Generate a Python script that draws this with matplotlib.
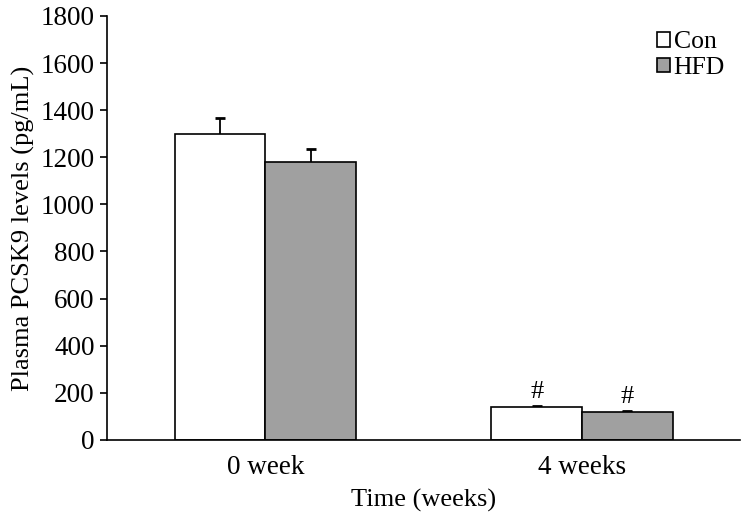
import matplotlib.pyplot as plt
import numpy as np

plt.rcParams['font.family'] = ['Liberation Serif', 'DejaVu Serif']

groups = ['0 week', '4 weeks']
con = [1300, 140]
con_se = [65, 5]
hfd = [1180, 120]
hfd_se = [57, 3]
marks = ['', '#']

fig = plt.figure(figsize=(7.44, 5.15), dpi=100)
ax = fig.add_axes([0.144, 0.146, 0.851, 0.823])

x = np.arange(len(groups))
w = 0.286
ekw = dict(ecolor='black', elinewidth=1.3, capsize=3.5, capthick=2, zorder=1)

# error bars drawn behind the bars so only the upper half shows
ax.errorbar(x - w / 2, con, yerr=con_se, fmt='none', **ekw)
ax.errorbar(x + w / 2, hfd, yerr=hfd_se, fmt='none', **ekw)
ax.bar(x - w / 2, con, w, color='white', edgecolor='black', linewidth=1.2, label='Con', zorder=2)
ax.bar(x + w / 2, hfd, w, color='#a0a0a0', edgecolor='black', linewidth=1.2, label='HFD', zorder=2)

for i, m in enumerate(marks):
    if m:
        ax.annotate(m, (x[i] - w / 2, con[i] + con_se[i]), xytext=(0, 2), textcoords='offset points',
                    ha='center', va='bottom', fontsize=19)
        ax.annotate(m, (x[i] + w / 2, hfd[i] + hfd_se[i]), xytext=(0, 2), textcoords='offset points',
                    ha='center', va='bottom', fontsize=19)

ax.set_xlim(-0.5, 1.5)
ax.set_ylim(0, 1800)
ax.set_yticks(range(0, 1801, 200))
ax.set_xticks(x)
ax.set_xticklabels(groups)
ax.tick_params(axis='y', direction='out', length=5, width=1.2, labelsize=19.5, pad=4)
ax.tick_params(axis='x', length=0, labelsize=19.5, pad=11)

for s in ['top', 'right']:
    ax.spines[s].set_visible(False)
ax.spines['left'].set_linewidth(1.2)
ax.spines['bottom'].set_linewidth(1.2)
ax.spines['bottom'].set_zorder(3)

ax.set_ylabel('Plasma PCSK9 levels (pg/mL)', fontsize=19, labelpad=4)
ax.set_xlabel('Time (weeks)', fontsize=19, labelpad=6)

ax.legend(loc='upper right', bbox_to_anchor=(1.0, 1.0), frameon=False, fontsize=18.5,
          handlelength=0.5, handleheight=0.5, handletextpad=0.15, labelspacing=0.15,
          borderaxespad=0.2)

fig.savefig('out.png')
